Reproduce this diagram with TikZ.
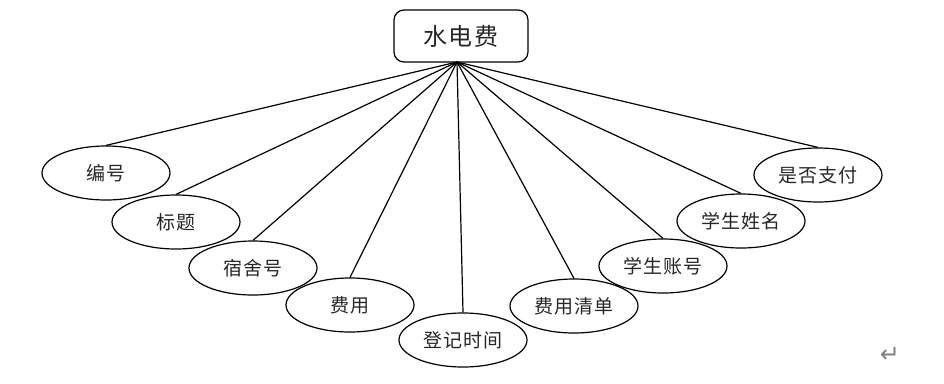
\documentclass[tikz,border=0pt]{standalone}
\usepackage{fontspec}
\setmainfont{Noto Sans CJK SC}[LetterSpace=6]
\newfontfamily\symfont{DejaVu Sans}
\usetikzlibrary{shapes.geometric}
\begin{document}
\begin{tikzpicture}[x=1pt,y=-1pt,
  ent/.style={draw,line width=1.2pt,rounded corners=10pt,minimum width=134pt,minimum height=52pt,inner sep=0pt,text=black!85,font=\fontsize{24}{26}\selectfont},
  attr/.style={draw,line width=1.2pt,ellipse,minimum width=128pt,minimum height=54pt,inner sep=0pt,text=black!85,font=\fontsize{19}{21}\selectfont},
  link/.style={line width=1.2pt}]
\useasboundingbox (0,0) rectangle (944,383);
\node[ent] (top) at (461,36) {水电费};
\coordinate (hub) at (457,62);
\node[attr] (a1) at (106,173) {编号};
\node[attr] (a2) at (176,222) {标题};
\node[attr] (a3) at (253,268) {宿舍号};
\node[attr] (a4) at (350,305) {费用};
\node[attr] (a5) at (463,340) {登记时间};
\node[attr] (a6) at (574,306) {费用清单};
\node[attr] (a7) at (663,266) {学生账号};
\node[attr] (a8) at (741,221) {学生姓名};
\node[attr] (a9) at (818,175) {是否支付};
\foreach \n in {a1,a2,a3,a4,a5,a6,a7,a8,a9}
  \draw[link] (hub) -- (\n.north);
\node[text=gray,font=\symfont\fontsize{24}{24}\selectfont] (ret) at (890,355) {↵};
\end{tikzpicture}
\end{document}
